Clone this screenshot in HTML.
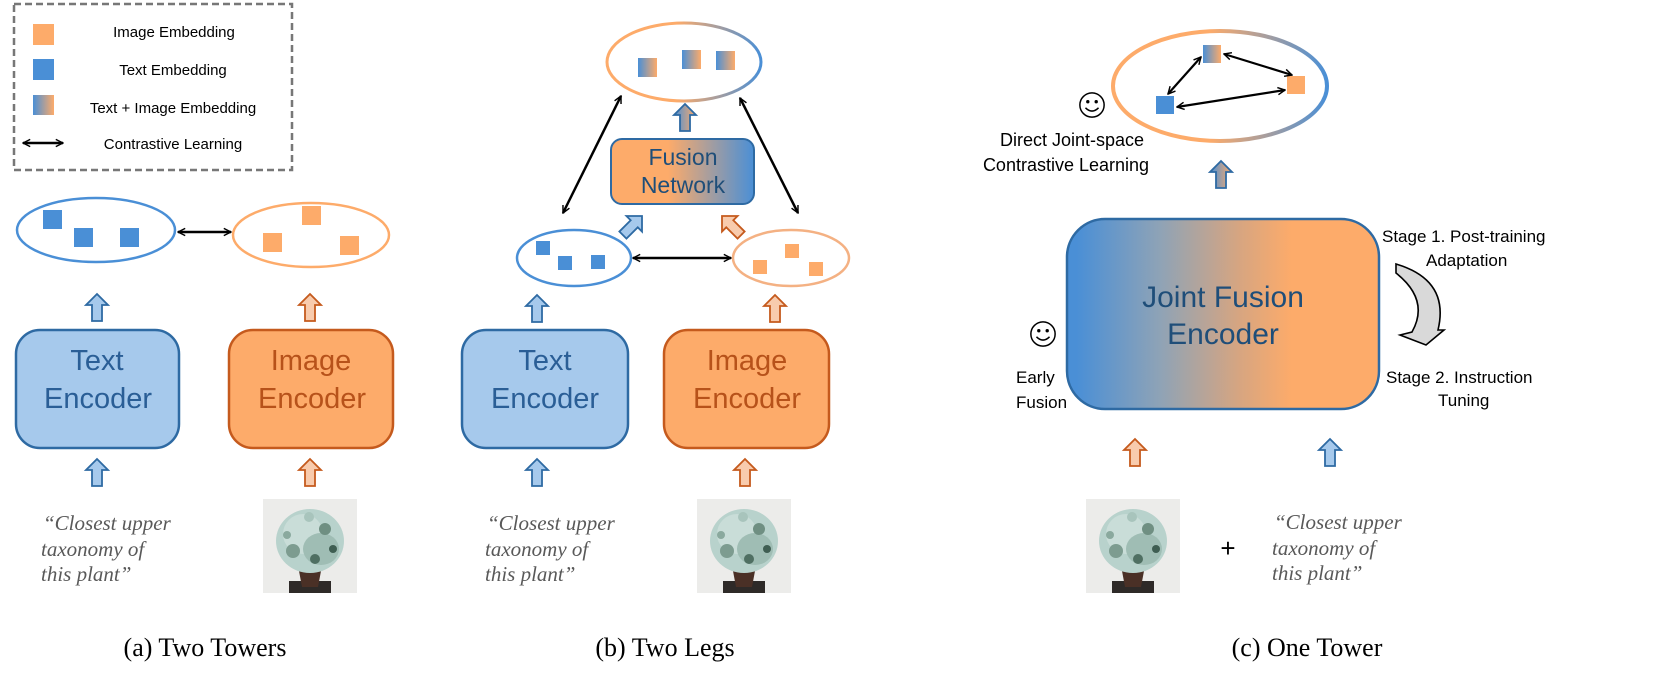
<!DOCTYPE html>
<html><head><meta charset="utf-8"><style>
html,body{margin:0;padding:0;background:#fff;}
svg{display:block;}
.s{font-family:"Liberation Sans",sans-serif;}
.q{font-family:"Liberation Serif",serif;font-style:italic;fill:#595959;font-size:21px;}
.cap{font-family:"Liberation Serif",serif;font-size:26px;fill:#000;}
</style></head><body>
<svg width="1661" height="676" viewBox="0 0 1661 676" xmlns="http://www.w3.org/2000/svg">
<defs>
<linearGradient id="tb" x1="0" x2="1" y1="0" y2="0"><stop offset="0" stop-color="#4a8fd6"/><stop offset="1" stop-color="#fdab6a"/></linearGradient>
<linearGradient id="ob" x1="0" x2="1" y1="0" y2="0"><stop offset="0.1" stop-color="#fdab6a"/><stop offset="0.45" stop-color="#fdab6a"/><stop offset="1" stop-color="#4a8fd6"/></linearGradient>
<linearGradient id="ob2" x1="0" x2="1" y1="0" y2="0"><stop offset="0" stop-color="#fdab6a"/><stop offset="0.4" stop-color="#fdab6a"/><stop offset="1" stop-color="#4a8fd6"/></linearGradient>
<linearGradient id="big" x1="0" x2="1" y1="0" y2="0"><stop offset="0.03" stop-color="#4a8fd6"/><stop offset="0.3" stop-color="#8fa3b6"/><stop offset="0.55" stop-color="#d6a581"/><stop offset="0.72" stop-color="#fdab6a"/><stop offset="1" stop-color="#fdab6a"/></linearGradient>
<marker id="ah" viewBox="0 0 10 10" refX="9" refY="5" markerWidth="9" markerHeight="9" orient="auto-start-reverse" markerUnits="userSpaceOnUse"><path d="M1,1 L9,5 L1,9" fill="none" stroke="#000" stroke-width="1.6"/></marker>
<symbol id="plant" viewBox="0 0 94 94">
<rect width="94" height="94" fill="#ececea"/>
<rect x="26" y="82" width="42" height="12" fill="#2e2a28"/>
<path d="M36,72 L58,72 L55,88 L39,88 Z" fill="#4a3026"/>
<ellipse cx="47" cy="42" rx="34" ry="32" fill="#b8d2cc"/>
<ellipse cx="40" cy="35" rx="20" ry="20" fill="#c9ddd8"/>
<ellipse cx="58" cy="50" rx="18" ry="16" fill="#9fbdb4"/>
<circle cx="30" cy="52" r="7" fill="#7d9c90"/>
<circle cx="62" cy="30" r="6" fill="#6f8f82"/>
<circle cx="52" cy="60" r="5" fill="#4f6f62"/>
<circle cx="70" cy="50" r="4" fill="#3f5e52"/>
<circle cx="24" cy="36" r="4" fill="#8aa99e"/>
<circle cx="46" cy="18" r="5" fill="#a8c4bc"/>
</symbol>
<symbol id="smile" viewBox="0 0 30 30"><circle cx="15" cy="15" r="13" fill="none" stroke="#000" stroke-width="1.6"/><circle cx="10.5" cy="11.5" r="1.8"/><circle cx="19.5" cy="11.5" r="1.8"/><path d="M8,18 Q15,25 22,18" fill="none" stroke="#000" stroke-width="1.6"/></symbol>
</defs>

<!-- Legend -->
<rect x="14" y="4" width="278" height="166" fill="none" stroke="#777" stroke-width="2.5" stroke-dasharray="7,4"/>
<rect x="33" y="24" width="21" height="21" fill="#fdab6a"/>
<rect x="33" y="59" width="21" height="21" fill="#4a8fd6"/>
<rect x="33" y="95" width="21" height="20" fill="url(#tb)"/>
<line x1="23" y1="143" x2="63" y2="143" stroke="#000" stroke-width="2.5" marker-start="url(#ah)" marker-end="url(#ah)"/>
<g class="s" font-size="15" fill="#000" text-anchor="middle">
<text x="174" y="37">Image Embedding</text>
<text x="173" y="75">Text Embedding</text>
<text x="173" y="113">Text + Image Embedding</text>
<text x="173" y="149">Contrastive Learning</text>
</g>

<!-- (a) -->
<ellipse cx="96" cy="230" rx="79" ry="32" fill="none" stroke="#4a8fd6" stroke-width="2.5"/>
<rect x="43" y="210" width="19" height="19" fill="#4a8fd6"/>
<rect x="74" y="228" width="19" height="19" fill="#4a8fd6"/>
<rect x="120" y="228" width="19" height="19" fill="#4a8fd6"/>
<ellipse cx="311" cy="235" rx="78" ry="32" fill="none" stroke="#fdab6a" stroke-width="2.5"/>
<rect x="302" y="206" width="19" height="19" fill="#fdab6a"/>
<rect x="263" y="233" width="19" height="19" fill="#fdab6a"/>
<rect x="340" y="236" width="19" height="19" fill="#fdab6a"/>
<line x1="178" y1="232" x2="231" y2="232" stroke="#000" stroke-width="2.5" marker-start="url(#ah)" marker-end="url(#ah)"/>

<path d="M97,294 L108,305 L102,305 L102,321 L92,321 L92,305 L86,305 Z" fill="#a6c9ec" stroke="#2e6aa3" stroke-width="1.8"/>
<path d="M310,294 L321,305 L315,305 L315,321 L305,321 L305,305 L299,305 Z" fill="#f8cbad" stroke="#c55a1d" stroke-width="1.8"/>
<rect x="16" y="330" width="163" height="118" rx="24" fill="#a6c9ec" stroke="#2e6aa3" stroke-width="2.5"/>
<rect x="229" y="330" width="164" height="118" rx="24" fill="#fdab6a" stroke="#c55a1d" stroke-width="2.5"/>
<g class="s" font-size="29" text-anchor="middle">
<text x="97" y="370" fill="#2a5e96">Text</text>
<text x="98" y="408" fill="#2a5e96">Encoder</text>
<text x="311" y="370" fill="#b7521a">Image</text>
<text x="312" y="408" fill="#b7521a">Encoder</text>
</g>
<path d="M97,459 L108,470 L102,470 L102,486 L92,486 L92,470 L86,470 Z" fill="#a6c9ec" stroke="#2e6aa3" stroke-width="1.8"/>
<path d="M310,459 L321,470 L315,470 L315,486 L305,486 L305,470 L299,470 Z" fill="#f8cbad" stroke="#c55a1d" stroke-width="1.8"/>
<text class="q" x="43" y="530">“Closest upper</text>
<text class="q" x="41" y="556">taxonomy of</text>
<text class="q" x="41" y="581">this plant”</text>
<use href="#plant" x="263" y="499" width="94" height="94"/>
<text class="cap" x="205" y="656" text-anchor="middle">(a) Two Towers</text>

<!-- (b) -->
<ellipse cx="684" cy="62" rx="77" ry="39" fill="none" stroke="url(#ob)" stroke-width="3"/>
<rect x="638" y="58" width="19" height="19" fill="url(#tb)"/>
<rect x="682" y="50" width="19" height="19" fill="url(#tb)"/>
<rect x="716" y="51" width="19" height="19" fill="url(#tb)"/>
<path d="M685,104 L696,115 L690,115 L690,131 L680,131 L680,115 L674,115 Z" fill="url(#tb)" stroke="#2e6aa3" stroke-width="1.8"/>
<rect x="611" y="139" width="143" height="65" rx="11" fill="url(#ob2)" stroke="#2e6aa3" stroke-width="2"/>
<g class="s" font-size="23" fill="#1f4e79" text-anchor="middle">
<text x="683" y="165">Fusion</text>
<text x="683" y="193">Network</text>
</g>
<line x1="621" y1="96" x2="563" y2="213" stroke="#000" stroke-width="2.5" marker-start="url(#ah)" marker-end="url(#ah)"/>
<line x1="740" y1="98" x2="798" y2="213" stroke="#000" stroke-width="2.5" marker-start="url(#ah)" marker-end="url(#ah)"/>
<ellipse cx="574" cy="258" rx="57" ry="28" fill="none" stroke="#4a8fd6" stroke-width="2.5"/>
<rect x="536" y="241" width="14" height="14" fill="#4a8fd6"/>
<rect x="558" y="256" width="14" height="14" fill="#4a8fd6"/>
<rect x="591" y="255" width="14" height="14" fill="#4a8fd6"/>
<ellipse cx="791" cy="258" rx="58" ry="28" fill="none" stroke="#f4b183" stroke-width="2.5"/>
<rect x="785" y="244" width="14" height="14" fill="#fdab6a"/>
<rect x="753" y="260" width="14" height="14" fill="#fdab6a"/>
<rect x="809" y="262" width="14" height="14" fill="#fdab6a"/>
<line x1="633" y1="258" x2="731" y2="258" stroke="#000" stroke-width="2.5" marker-start="url(#ah)" marker-end="url(#ah)"/>
<path d="M0,0 L11,11 L5,11 L5,27 L-5,27 L-5,11 L-11,11 Z" fill="#a6c9ec" stroke="#2e6aa3" stroke-width="1.8" transform="translate(642,216) rotate(45)"/>
<path d="M0,0 L11,11 L5,11 L5,27 L-5,27 L-5,11 L-11,11 Z" fill="#f8cbad" stroke="#c55a1d" stroke-width="1.8" transform="translate(722,216) rotate(-45)"/>
<path d="M537,295 L548,306 L542,306 L542,322 L532,322 L532,306 L526,306 Z" fill="#a6c9ec" stroke="#2e6aa3" stroke-width="1.8"/>
<path d="M775,295 L786,306 L780,306 L780,322 L770,322 L770,306 L764,306 Z" fill="#f8cbad" stroke="#c55a1d" stroke-width="1.8"/>
<rect x="462" y="330" width="166" height="118" rx="24" fill="#a6c9ec" stroke="#2e6aa3" stroke-width="2.5"/>
<rect x="664" y="330" width="165" height="118" rx="24" fill="#fdab6a" stroke="#c55a1d" stroke-width="2.5"/>
<g class="s" font-size="29" text-anchor="middle">
<text x="545" y="370" fill="#2a5e96">Text</text>
<text x="545" y="408" fill="#2a5e96">Encoder</text>
<text x="747" y="370" fill="#b7521a">Image</text>
<text x="747" y="408" fill="#b7521a">Encoder</text>
</g>
<path d="M537,459 L548,470 L542,470 L542,486 L532,486 L532,470 L526,470 Z" fill="#a6c9ec" stroke="#2e6aa3" stroke-width="1.8"/>
<path d="M745,459 L756,470 L750,470 L750,486 L740,486 L740,470 L734,470 Z" fill="#f8cbad" stroke="#c55a1d" stroke-width="1.8"/>
<text class="q" x="487" y="530">“Closest upper</text>
<text class="q" x="485" y="556">taxonomy of</text>
<text class="q" x="485" y="581">this plant”</text>
<use href="#plant" x="697" y="499" width="94" height="94"/>
<text class="cap" x="665" y="656" text-anchor="middle">(b) Two Legs</text>

<!-- (c) -->
<ellipse cx="1220" cy="86" rx="107" ry="55" fill="none" stroke="url(#ob)" stroke-width="4"/>
<rect x="1203" y="45" width="18" height="18" fill="url(#tb)"/>
<rect x="1287" y="76" width="18" height="18" fill="#fdab6a"/>
<rect x="1156" y="96" width="18" height="18" fill="#4a8fd6"/>
<line x1="1201" y1="57" x2="1168" y2="94" stroke="#000" stroke-width="2.2" marker-start="url(#ah)" marker-end="url(#ah)"/>
<line x1="1224" y1="54" x2="1292" y2="75" stroke="#000" stroke-width="2.2" marker-start="url(#ah)" marker-end="url(#ah)"/>
<line x1="1177" y1="107" x2="1285" y2="90" stroke="#000" stroke-width="2.2" marker-start="url(#ah)" marker-end="url(#ah)"/>
<use href="#smile" x="1078" y="91" width="28" height="28"/>
<g class="s" font-size="18" fill="#000" text-anchor="middle">
<text x="1072" y="146">Direct Joint-space</text>
<text x="1066" y="171">Contrastive Learning</text>
</g>
<path d="M1221,161 L1232,172 L1226,172 L1226,188 L1216,188 L1216,172 L1210,172 Z" fill="url(#tb)" stroke="#2e6aa3" stroke-width="1.8"/>
<rect x="1067" y="219" width="312" height="190" rx="38" fill="url(#big)" stroke="#2e6aa3" stroke-width="2.5"/>
<g class="s" font-size="30" fill="#1f4e79" text-anchor="middle">
<text x="1223" y="307">Joint Fusion</text>
<text x="1223" y="344">Encoder</text>
</g>
<use href="#smile" x="1029" y="320" width="28" height="28"/>
<g class="s" font-size="17" fill="#000">
<text x="1016" y="383">Early</text>
<text x="1016" y="408">Fusion</text>
<text x="1382" y="242">Stage 1. Post-training</text>
<text x="1426" y="266">Adaptation</text>
<text x="1386" y="383">Stage 2. Instruction</text>
<text x="1438" y="406">Tuning</text>
</g>
<path d="M1396,264 Q1450,280 1438,330 L1444,330 L1426,345 L1400,335 L1412,332 Q1430,300 1396,273 Z" fill="#d9d9d9" stroke="#000" stroke-width="1.6"/>
<path d="M1135,439 L1146,450 L1140,450 L1140,466 L1130,466 L1130,450 L1124,450 Z" fill="#f8cbad" stroke="#c55a1d" stroke-width="1.8"/>
<path d="M1330,439 L1341,450 L1335,450 L1335,466 L1325,466 L1325,450 L1319,450 Z" fill="#a6c9ec" stroke="#2e6aa3" stroke-width="1.8"/>
<use href="#plant" x="1086" y="499" width="94" height="94"/>
<text class="s" x="1228" y="557" font-size="26" text-anchor="middle">+</text>
<text class="q" x="1274" y="529">“Closest upper</text>
<text class="q" x="1272" y="555">taxonomy of</text>
<text class="q" x="1272" y="580">this plant”</text>
<text class="cap" x="1307" y="656" text-anchor="middle">(c) One Tower</text>
</svg>
</body></html>
